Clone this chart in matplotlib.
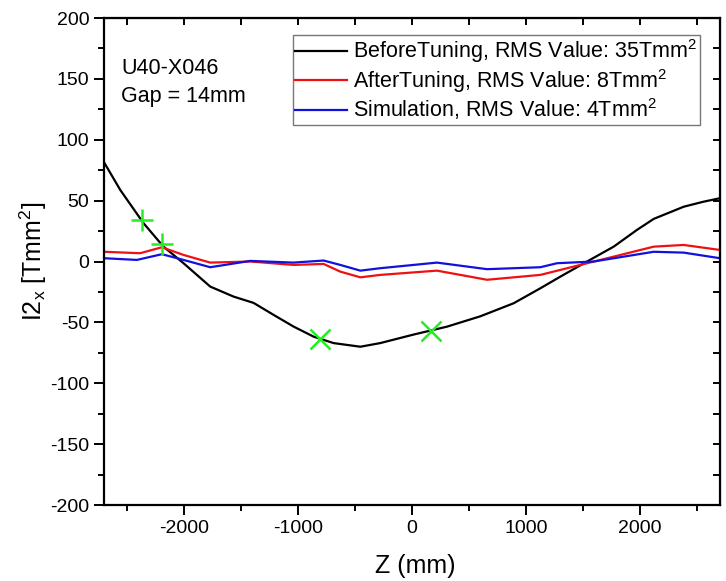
import matplotlib
matplotlib.use("Agg")
import matplotlib.pyplot as plt
from matplotlib.ticker import MultipleLocator

plt.rcParams['font.family'] = ['Liberation Sans', 'DejaVu Sans']
plt.rcParams['mathtext.fontset'] = 'custom'
plt.rcParams['mathtext.rm'] = 'Liberation Sans'
plt.rcParams['mathtext.it'] = 'Liberation Sans'
plt.rcParams['axes.unicode_minus'] = False

# Z positions (mm) and first field integral I2x (Tmm^2)
z_before = [-2700, -2558, -2354, -2179, -2003, -1769, -1565, -1389, -1214,
            -1039, -863, -688, -453, -278, 14, 307, 599, 891, 1125, 1301,
            1535, 1768, 1973, 2119, 2382, 2550, 2700]
i2_before = [81.5, 58.8, 31.5, 12.2, -1.4, -20.6, -28.8, -34, -43.8,
             -53.4, -61.7, -67, -70, -67, -60, -53.5, -45, -34.3, -22, -12.4,
             0, 12.2, 26, 35, 45, 49, 52]

z_after = [-2700, -2384, -2193, -2003, -1769, -1418, -1039, -775, -629,
           -453, -278, 219, 658, 1125, 1476, 1768, 2119, 2382, 2700]
i2_after = [8, 6.8, 11.7, 5.4, -0.9, 0, -2.8, -2, -8.3,
            -13, -11, -7.5, -15, -11, -2.8, 4, 12.2, 13.6, 9.5]

z_sim = [-2700, -2412, -2193, -2003, -1769, -1418, -1039, -775, -629,
         -453, -278, 219, 658, 1125, 1272, 1593, 2119, 2382, 2700]
i2_sim = [2.7, 1.3, 6, 1.3, -4.7, 0.5, -0.9, 0.8, -2.8,
          -7.5, -5.5, -0.9, -6.3, -4.7, -1.4, 0, 8, 7.3, 2.7]

# Highlighted points on the BeforeTuning curve
plus_z = [-2368, -2188]
plus_v = [34, 14]
cross_z = [-806, 167]
cross_v = [-64, -57]

labels = ["BeforeTuning, RMS Value: 35Tmm$^2$",
          "AfterTuning, RMS Value: 8Tmm$^2$",
          "Simulation, RMS Value: 4Tmm$^2$"]

fig = plt.figure(figsize=(7.26, 5.81), dpi=100)
ax = fig.add_axes([0.1433, 0.1308, 0.8484, 0.8382])

ax.plot(z_before, i2_before, color='black', lw=1.6, label=labels[0])
ax.plot(z_after, i2_after, color='#ee1111', lw=1.6, label=labels[1])
ax.plot(z_sim, i2_sim, color='#1111dd', lw=1.6, label=labels[2])

green = '#22ee22'
ax.plot(plus_z, plus_v, ls='none', marker='+', ms=16, mew=1.8, color=green)
ax.plot(cross_z, cross_v, ls='none', marker='x', ms=15, mew=1.8, color=green)

ax.set_xlim(-2700, 2700)
ax.set_ylim(-200, 200)
ax.xaxis.set_major_locator(MultipleLocator(1000))
ax.xaxis.set_minor_locator(MultipleLocator(500))
ax.yaxis.set_major_locator(MultipleLocator(50))
ax.yaxis.set_minor_locator(MultipleLocator(25))

for s in ax.spines.values():
    s.set_linewidth(1.6)

ax.tick_params(which='both', direction='out', top=False, right=False,
               labelsize=14, width=1.4)
ax.tick_params(which='major', length=7)
ax.tick_params(which='minor', length=4)

# inward ticks on the top and right edges
axt = ax.secondary_xaxis('top')
axt.set_xticks(range(-2500, 2501, 500))
axt.tick_params(direction='in', length=5, width=1.4, labeltop=False)
axr = ax.secondary_yaxis('right')
axr.set_yticks(range(-175, 176, 25))
axr.tick_params(direction='in', length=5, width=1.4, labelright=False)

ax.set_xlabel("Z (mm)", fontsize=18)
ax.set_ylabel("I2$_x$ [Tmm$^2$]", fontsize=18)
ax.xaxis.set_label_coords(0.505, -0.1)
ax.yaxis.set_label_coords(-0.09, 0.5)

ax.text(0.028, 0.897, "U40-X046", transform=ax.transAxes, fontsize=15.5, va='center')
ax.text(0.028, 0.838, "Gap = 14mm", transform=ax.transAxes, fontsize=15.5, va='center')

leg = ax.legend(loc='upper right', bbox_to_anchor=(0.9675, 0.965), fontsize=15.5,
                frameon=True, fancybox=False, edgecolor='#777777', framealpha=1,
                handlelength=2.4, handletextpad=0.3, borderpad=0.1,
                labelspacing=0.08, borderaxespad=0)
leg.get_frame().set_linewidth(1.0)

fig.savefig("out.png", dpi=100)
